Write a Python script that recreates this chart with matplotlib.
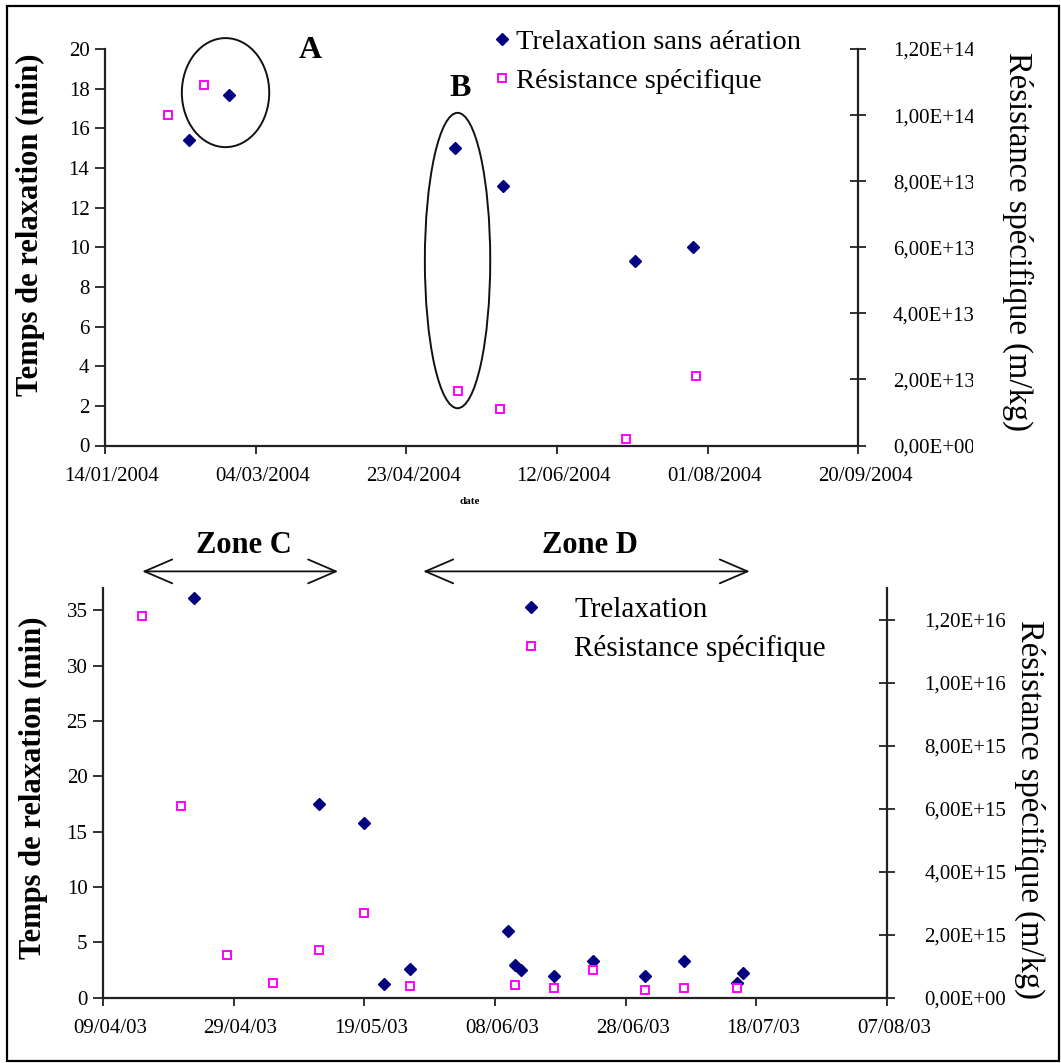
import matplotlib
matplotlib.use("Agg")

import matplotlib.pyplot as plt
import matplotlib.dates as mdates
import matplotlib.ticker as mticker
import pandas as pd
from matplotlib.lines import Line2D
from matplotlib.patches import Ellipse, Rectangle
from matplotlib.transforms import Bbox, ScaledTranslation, TransformedBbox

plt.rcParams["font.family"] = ["Liberation Serif", "DejaVu Serif"]

# --- 2004 campaign (sans aération) ---
top_t_dates = ["11/02/2004", "24/02/2004", "09/05/2004", "25/05/2004", "08/07/2004", "27/07/2004"]
top_t_min = [15.4, 17.7, 15.0, 13.1, 9.3, 10.0]
top_r_dates = ["04/02/2004", "16/02/2004", "10/05/2004", "24/05/2004", "05/07/2004", "28/07/2004"]
top_r_mkg = [1.00e14, 1.09e14, 1.66e13, 1.11e13, 1.9e12, 2.11e13]

# circled groups: label, centre date, centre value, width (days), height (min), label date, label value
top_groups = [
    ("A", "23/02/2004", 17.8, 29.0, 5.5, "22/03/2004", 19.9),
    ("B", "10/05/2004", 9.33, 21.7, 14.9, "11/05/2004", 18.0),
]

# --- 2003 campaign ---
bot_t_dates = ["23/04/2003", "12/05/2003", "19/05/2003", "22/05/2003", "26/05/2003",
               "10/06/2003", "11/06/2003", "12/06/2003", "17/06/2003", "23/06/2003",
               "01/07/2003", "07/07/2003", "15/07/2003", "16/07/2003"]
bot_t_min = [36.1, 17.5, 15.8, 1.25, 2.6, 6.0, 3.0, 2.5, 2.0, 3.3, 2.0, 3.3, 1.35, 2.2]
bot_r_dates = ["15/04/2003", "21/04/2003", "28/04/2003", "05/05/2003", "12/05/2003",
               "19/05/2003", "26/05/2003", "11/06/2003", "17/06/2003", "23/06/2003",
               "01/07/2003", "07/07/2003", "15/07/2003"]
bot_r_mkg = [1.21e16, 6.1e15, 1.35e15, 4.7e14, 1.53e15, 2.7e15, 3.6e14,
             4.2e14, 3.0e14, 8.8e14, 2.5e14, 3.0e14, 3.1e14]

zones = [("Zone C", "15/04/2003", "15/05/2003"), ("Zone D", "28/05/2003", "17/07/2003")]

NAVY = "#000080"
MAGENTA = "#FF00FF"
AXCOL = "#222222"
W, H = 1061, 1063


def d(s):
    return pd.to_datetime(s, dayfirst=True)


def px_rect(left, top, right, bottom):
    return [left / W, 1 - bottom / H, (right - left) / W, (bottom - top) / H]


def sci_fr(v, pos):
    return f"{v:.2E}".replace(".", ",")


def style(ax, axr, start, end, step, fmt, ymax, ystep, rmax, rstep, rpad):
    ax.set_xlim(d(start), d(end))
    ax.set_ylim(0, ymax)
    axr.set_ylim(0, rmax)
    ax.set_xticks(pd.date_range(d(start), d(end), freq=f"{step}D"))
    ax.xaxis.set_major_formatter(mdates.DateFormatter(fmt))
    ax.set_yticks([ystep * i for i in range(int(ymax // ystep) + 1)])
    axr.set_yticks([rstep * i for i in range(int(round(rmax / rstep)) + 1) if rstep * i <= rmax * 1.0001])
    axr.yaxis.set_major_formatter(mticker.FuncFormatter(sci_fr))

    for sp in ("top", "right"):
        ax.spines[sp].set_visible(False)
    for sp in ("top", "left", "bottom"):
        axr.spines[sp].set_visible(False)
    for sp in (ax.spines["left"], ax.spines["bottom"], axr.spines["right"]):
        sp.set_color(AXCOL)
        sp.set_linewidth(1.6)

    ax.tick_params(axis="y", direction="out", length=7, width=1.3, pad=4.2,
                   labelsize=15, color=AXCOL)
    ax.tick_params(axis="x", direction="out", length=5.5, width=1.3, pad=10,
                   labelsize=15, color=AXCOL)
    axr.tick_params(axis="y", direction="inout", length=12, width=1.3, pad=rpad,
                    labelsize=15, color=AXCOL)

    shift = ScaledTranslation(5 / 72, 0, ax.figure.dpi_scale_trans)
    for lbl in ax.get_xticklabels():
        lbl.set_transform(lbl.get_transform() + shift)


fig = plt.figure(figsize=(W / 100, H / 100), dpi=100)

# ---------------- top panel ----------------
ax1 = fig.add_axes(px_rect(105, 49, 858.3, 445.5))
ax1r = ax1.twinx()
ax1.plot(d(top_t_dates), top_t_min, ls="none", marker="D", ms=6, color=NAVY)
ax1r.plot(d(top_r_dates), top_r_mkg, ls="none", marker="s", ms=6,
          mfc="white", mec=MAGENTA, mew=1.4)
style(ax1, ax1r, "14/01/2004", "20/09/2004", 50, "%d/%m/%Y", 20, 2, 1.2e14, 2e13, 19)

for name, cdate, cval, wd, ht, ldate, lval in top_groups:
    x0 = mdates.date2num(d(cdate))
    ax1.add_patch(Ellipse((x0, cval), wd, ht, fill=False, ec="#111111", lw=1.4, clip_on=False))
    ax1.text(mdates.date2num(d(ldate)), lval, name, ha="center", va="center",
             fontsize=23, fontweight="bold")

# right-hand labels are cut by the axis title column
clip = TransformedBbox(Bbox([[0, 0], [973 / W, 1]]), fig.transFigure)
for lbl in ax1r.get_yticklabels():
    lbl.set_clip_box(clip)
    lbl.set_clip_on(True)

h_t = Line2D([], [], ls="none", marker="D", ms=6, color=NAVY)
h_r = Line2D([], [], ls="none", marker="s", ms=6, mfc="white", mec=MAGENTA, mew=1.4)
ax1.legend([h_t, h_r], ["Trelaxation sans aération", "Résistance spécifique"],
           loc="upper left", bbox_to_anchor=(493 / W, 1 - 29 / H),
           bbox_transform=fig.transFigure, frameon=False, fontsize=20.5,
           handlelength=0.6, handletextpad=0.2, labelspacing=0.45,
           borderpad=0, borderaxespad=0)

fig.text(30 / W, 1 - 225 / H, "Temps de relaxation (min)", rotation=90,
         ha="center", va="center", fontsize=22, fontweight="bold")
fig.text(1018 / W, 1 - 242 / H, "Résistance spécifique (m/kg)", rotation=270,
         ha="center", va="center", fontsize=23.5)
fig.text(470 / W, 1 - 502 / H, "date", ha="center", va="center", fontsize=8,
         fontweight="bold")

# ---------------- bottom panel ----------------
ax2 = fig.add_axes(px_rect(103, 588, 887, 997.8))
ax2r = ax2.twinx()
ax2.plot(d(bot_t_dates), bot_t_min, ls="none", marker="D", ms=6, color=NAVY)
ax2r.plot(d(bot_r_dates), bot_r_mkg, ls="none", marker="s", ms=6,
          mfc="white", mec=MAGENTA, mew=1.4)
style(ax2, ax2r, "09/04/2003", "07/08/2003", 20, "%d/%m/%y", 37, 5, 1.3e16, 2e15, 21)

for name, start, end in zones:
    x0 = mdates.date2num(d(start))
    x1 = mdates.date2num(d(end))
    ax2.annotate("", xy=(x1, 38.5), xytext=(x0, 38.5), xycoords="data",
                 annotation_clip=False,
                 arrowprops=dict(arrowstyle="<->,head_length=1.0,head_width=0.43",
                                 mutation_scale=20, lw=1.3, color="#111111",
                                 shrinkA=0, shrinkB=0))
    ax2.text((x0 + x1) / 2 + 0.6, 40.8, name, ha="center", va="center", fontsize=22,
             fontweight="bold", clip_on=False)

ax2.legend([h_t, h_r], ["Trelaxation", "Résistance spécifique"],
           loc="upper left", bbox_to_anchor=(516 / W, 1 - 597 / H),
           bbox_transform=fig.transFigure, frameon=False, fontsize=21,
           handlelength=1.0, handletextpad=1.0, labelspacing=0.4,
           borderpad=0, borderaxespad=0)

fig.text(33 / W, 1 - 788 / H, "Temps de relaxation (min)", rotation=90,
         ha="center", va="center", fontsize=22, fontweight="bold")
fig.text(1030 / W, 1 - 810 / H, "Résistance spécifique (m/kg)", rotation=270,
         ha="center", va="center", fontsize=23.5)

# outer frame
fig.add_artist(Rectangle((7 / W, 1 - 1061 / H), (1059 - 7) / W, (1061 - 5.7) / H,
                         transform=fig.transFigure, fill=False, lw=1.6, ec="black"))

fig.savefig("out.png", dpi=100)
plt.close(fig)
